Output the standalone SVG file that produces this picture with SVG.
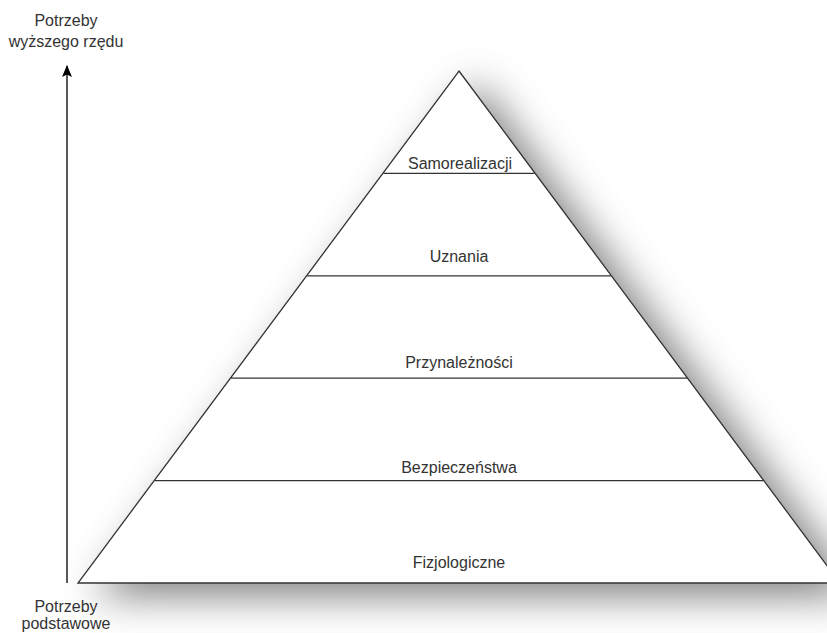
<svg xmlns="http://www.w3.org/2000/svg" width="827" height="633" viewBox="0 0 827 633">
<style>
  .lbl { font-family: "Liberation Sans", Arial, sans-serif; font-size: 16px; fill: #333333; text-anchor: middle; }
  .edge { stroke: #333333; stroke-width: 1.3; fill: none; }
</style>
<defs>
  <filter id="shadow" x="-20%" y="-20%" width="150%" height="150%">
    <feGaussianBlur in="SourceAlpha" stdDeviation="20"/>
    <feOffset dx="18" dy="12" result="b"/>
    <feFlood flood-color="#000000" flood-opacity="0.5"/>
    <feComposite in2="b" operator="in" result="s"/>
    <feMerge><feMergeNode in="s"/><feMergeNode in="SourceGraphic"/></feMerge>
  </filter>
  <marker id="arrow" markerWidth="12" markerHeight="10" refX="11" refY="5" orient="auto" markerUnits="userSpaceOnUse" viewBox="0 0 12 10">
    <path d="M0,0 L12,5 L0,10 L2.5,5 Z" fill="#000000"/>
  </marker>
</defs>
<rect width="827" height="633" fill="#ffffff"/>
<g id="pyramid">
  <polygon points="459,71 840,583 78,583" fill="#ffffff" stroke="#333333" stroke-width="1.3" filter="url(#shadow)"/>
  <line x1="383.4" y1="173.4" x2="534.6" y2="173.4" class="edge"/>
  <line x1="307.2" y1="275.8" x2="610.8" y2="275.8" class="edge"/>
  <line x1="231.0" y1="378.2" x2="687.0" y2="378.2" class="edge"/>
  <line x1="154.8" y1="480.6" x2="763.2" y2="480.6" class="edge"/>
</g>
<g id="level-samorealizacji"><text class="lbl" x="460" y="169">Samorealizacji</text></g>
<g id="level-uznania"><text class="lbl" x="459" y="262">Uznania</text></g>
<g id="level-przynaleznosci"><text class="lbl" x="459" y="368">Przynależności</text></g>
<g id="level-bezpieczenstwa"><text class="lbl" x="459" y="473">Bezpieczeństwa</text></g>
<g id="level-fizjologiczne"><text class="lbl" x="459" y="568">Fizjologiczne</text></g>
<g id="label-top">
  <text class="lbl" x="66" y="26">Potrzeby</text>
  <text class="lbl" x="66" y="47">wyższego rzędu</text>
</g>
<g id="label-bottom">
  <text class="lbl" x="66" y="612">Potrzeby</text>
  <text class="lbl" x="66" y="629">podstawowe</text>
</g>
<g id="connectors">
  <line x1="67" y1="583" x2="67" y2="66" stroke="#000000" stroke-width="1.3" marker-end="url(#arrow)"/>
</g>
</svg>
